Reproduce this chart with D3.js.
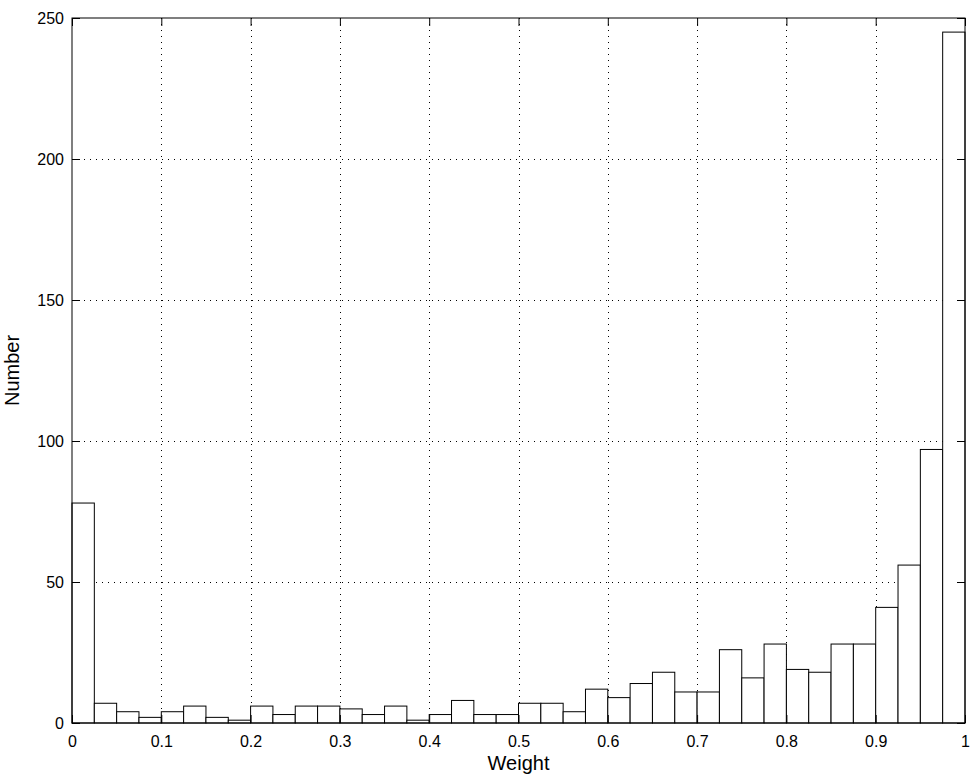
<!DOCTYPE html>
<html>
<head>
<meta charset="utf-8">
<script src="https://cdn.jsdelivr.net/npm/d3@7"></script>
<style>
  body { margin: 0; background: #fff; }
  svg text { font-family: "Liberation Sans", Arial, sans-serif; fill: #000; }
</style>
</head>
<body>
<div id="chart"></div>
<script>
// histogram of weights, 40 bins of width 0.025
var binStart = 0, binWidth = 0.025;
var counts = [78, 7, 4, 2, 4, 6, 2, 1, 6, 3,
              6, 6, 5, 3, 6, 1, 3, 8, 3, 3,
              7, 7, 4, 12, 9, 14, 18, 11, 11, 26,
              16, 28, 19, 18, 28, 28, 41, 56, 97, 245];
var xTicks = [0, 0.1, 0.2, 0.3, 0.4, 0.5, 0.6, 0.7, 0.8, 0.9, 1];
var yTicks = [0, 50, 100, 150, 200, 250];
var xLabel = "Weight", yLabel = "Number";

var width = 978, height = 780;
var margin = {left: 72, top: 18, right: 13, bottom: 57};

var svg = d3.select("#chart").append("svg")
    .attr("width", width)
    .attr("height", height);

var x = d3.scaleLinear().domain([0, 1]).range([margin.left, width - margin.right]);
var y = d3.scaleLinear().domain([0, 250]).range([height - margin.bottom, margin.top]);

// grid
var grid = svg.append("g").attr("stroke", "#000").attr("stroke-width", 1)
    .attr("stroke-dasharray", "1,5");
grid.selectAll(".gx").data(xTicks.slice(1, -1)).enter().append("line")
    .attr("x1", function(d) { return Math.round(x(d)) + 0.5; })
    .attr("x2", function(d) { return Math.round(x(d)) + 0.5; })
    .attr("y1", y(250)).attr("y2", y(0));
grid.selectAll(".gy").data(yTicks.slice(1, -1)).enter().append("line")
    .attr("y1", function(d) { return Math.round(y(d)) + 0.5; })
    .attr("y2", function(d) { return Math.round(y(d)) + 0.5; })
    .attr("x1", x(0)).attr("x2", x(1));

// bars
svg.append("g").selectAll("rect").data(counts).enter().append("rect")
    .attr("x", function(d, i) { return x(binStart + i * binWidth); })
    .attr("width", x(binWidth) - x(0))
    .attr("y", function(d) { return y(d); })
    .attr("height", function(d) { return y(0) - y(d); })
    .attr("fill", "#fff")
    .attr("stroke", "#000")
    .attr("stroke-width", 1);

// axes box with inward ticks on all sides
var tickLen = 8;
var xBottom = d3.axisBottom(x).tickValues(xTicks).tickSize(-tickLen).tickPadding(13)
    .tickFormat(function(d) { return d3.format("")(d); });
var xTop = d3.axisTop(x).tickValues(xTicks).tickSize(-tickLen).tickFormat("");
var yLeft = d3.axisLeft(y).tickValues(yTicks).tickSize(-tickLen).tickPadding(8);
var yRight = d3.axisRight(y).tickValues(yTicks).tickSize(-tickLen).tickFormat("");

function style(g) {
  g.selectAll("path, line").attr("stroke", "#000");
  g.selectAll("text").attr("font-size", 16)
    .attr("font-family", "'Liberation Sans', Arial, sans-serif").attr("fill", "#000");
}
svg.append("g").attr("transform", "translate(0," + y(0) + ")").call(xBottom).call(style)
  .call(function(g) { g.select(".domain").remove(); });
svg.append("g").attr("transform", "translate(0," + y(250) + ")").call(xTop).call(style)
  .call(function(g) { g.select(".domain").remove(); });
svg.append("g").attr("transform", "translate(" + x(0) + ",0)").call(yLeft).call(style)
  .call(function(g) { g.select(".domain").remove(); });
svg.append("g").attr("transform", "translate(" + x(1) + ",0)").call(yRight).call(style)
  .call(function(g) { g.select(".domain").remove(); });

svg.append("rect")
    .attr("x", x(0)).attr("y", y(250))
    .attr("width", x(1) - x(0)).attr("height", y(0) - y(250))
    .attr("fill", "none").attr("stroke", "#000").attr("stroke-width", 1);

// labels
svg.append("text")
    .attr("x", (x(0) + x(1)) / 2).attr("y", 770)
    .attr("text-anchor", "middle").attr("font-size", 20)
    .text(xLabel);
svg.append("text")
    .attr("transform", "translate(19," + ((y(0) + y(250)) / 2) + ") rotate(-90)")
    .attr("text-anchor", "middle").attr("font-size", 20)
    .text(yLabel);
</script>
</body>
</html>
